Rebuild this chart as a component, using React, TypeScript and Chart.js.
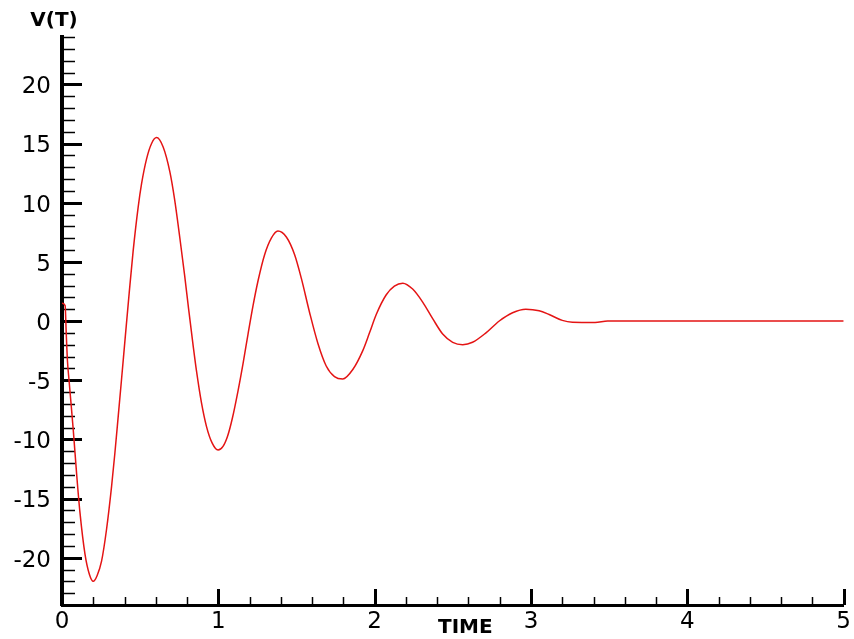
import React, { useEffect, useRef } from "react";
import { Chart, registerables } from "chart.js";

Chart.register(...registerables);

// ---- data ----
const timeValues = [
  0, 0.02, 0.027, 0.035, 0.045, 0.058, 0.072, 0.094, 0.115, 0.147, 0.175, 0.2,
  0.225, 0.253, 0.285, 0.317, 0.338, 0.36, 0.381, 0.405, 0.43, 0.455, 0.487,
  0.509, 0.541, 0.573, 0.605, 0.647, 0.69, 0.72, 0.753, 0.785, 0.81, 0.839,
  0.86, 0.892, 0.924, 0.96, 0.998, 1.03, 1.06, 1.09, 1.126, 1.158, 1.19, 1.222,
  1.254, 1.296, 1.339, 1.381, 1.435, 1.488, 1.531, 1.584, 1.637, 1.69, 1.743,
  1.796, 1.86, 1.924, 1.967, 2.01, 2.073, 2.126, 2.18, 2.243, 2.307, 2.371,
  2.435, 2.499, 2.563, 2.626, 2.712, 2.797, 2.882, 2.967, 3.052, 3.116, 3.2,
  3.265, 3.41, 3.49, 3.6, 4.0, 4.5, 5.0,
];
const voltageValues = [
  1.5, 1.3, -1.0, -3.4, -5.0, -7.0, -9.2, -13.0, -16.2, -19.7, -21.4, -22.0,
  -21.5, -20.3, -17.6, -14.0, -11.2, -8.0, -4.9, -1.3, 2.4, 5.9, 9.6, 11.6,
  13.7, 15.0, 15.5, 14.7, 12.6, 10.3, 7.1, 3.8, 1.0, -2.1, -4.2, -6.9, -8.9,
  -10.3, -10.9, -10.6, -9.7, -8.2, -5.9, -3.6, -1.1, 1.3, 3.4, 5.6, 7.0, 7.6,
  7.1, 5.6, 3.6, 0.7, -1.9, -3.8, -4.7, -4.9, -4.1, -2.5, -1.0, 0.55, 2.2,
  2.95, 3.2, 2.7, 1.6, 0.2, -1.1, -1.8, -2.0, -1.8, -1.0, 0.0, 0.7, 1.0,
  0.87, 0.55, 0.05, -0.1, -0.12, 0.0, 0, 0, 0, 0,
];
const xTickLabels = [0, 1, 2, 3, 4, 5];
const yTickLabels = [-20, -15, -10, -5, 0, 5, 10, 15, 20];
const xRange = [0, 5];
const yRange = [-24, 24];
const xMinorStep = 0.2;
const yMinorStep = 1;
const xTitle = "TIME";
const yTitle = "V(T)";

const innerTicks = {
  id: "innerTicks",
  beforeDatasetsDraw(chart: any) {
    const { ctx, chartArea, scales } = chart;
    const xs = scales.x;
    const ys = scales.y;
    ctx.save();
    ctx.strokeStyle = "#000";
    const nY = Math.round((yRange[1] - yRange[0]) / yMinorStep);
    for (let i = 0; i <= nY; i++) {
      const v = yRange[0] + i * yMinorStep;
      const major = yTickLabels.some((t) => Math.abs(t - v) < 1e-6);
      const py = Math.round(ys.getPixelForValue(v)) + 0.5;
      ctx.lineWidth = major ? 3 : 1.5;
      ctx.beginPath();
      ctx.moveTo(chartArea.left, py);
      ctx.lineTo(chartArea.left + (major ? 20 : 13), py);
      ctx.stroke();
    }
    const nX = Math.round((xRange[1] - xRange[0]) / xMinorStep);
    for (let i = 0; i <= nX; i++) {
      const v = xRange[0] + i * xMinorStep;
      const major = xTickLabels.some((t) => Math.abs(t - v) < 1e-6);
      const px = Math.round(xs.getPixelForValue(v)) + 0.5;
      ctx.lineWidth = major ? 3 : 1.5;
      ctx.beginPath();
      ctx.moveTo(px, chartArea.bottom);
      ctx.lineTo(px, chartArea.bottom - (major ? 16 : 8));
      ctx.stroke();
    }
    ctx.restore();
  },
  afterDraw(chart: any) {
    const { ctx, chartArea } = chart;
    ctx.save();
    ctx.fillStyle = "#000";
    ctx.font = "bold 20px 'DejaVu Sans'";
    ctx.textAlign = "center";
    ctx.textBaseline = "middle";
    ctx.fillText(yTitle, chartArea.left - 8, chartArea.top - 16);
    ctx.fillText(xTitle, chartArea.left + (chartArea.right - chartArea.left) * 0.516, chartArea.bottom + 23);
    ctx.restore();
  },
};

export default function App() {
  const ref = useRef<HTMLCanvasElement>(null);
  useEffect(() => {
    if (!ref.current) return;
    const points = timeValues.map((t, i) => ({ x: t, y: voltageValues[i] }));
    const chart = new Chart(ref.current, {
      type: "line",
      data: {
        datasets: [
          {
            data: points,
            borderColor: "rgb(228, 20, 20)",
            borderWidth: 1.5,
            pointRadius: 0,
            fill: false,
            cubicInterpolationMode: "monotone",
          },
        ],
      },
      options: {
        animation: false,
        responsive: false,
        layout: { padding: { top: 37, right: 9, left: 0, bottom: 0 } },
        plugins: { legend: { display: false }, tooltip: { enabled: false } },
        scales: {
          x: {
            type: "linear",
            min: xRange[0],
            max: xRange[1],
            afterBuildTicks: (s: any) => {
              s.ticks = xTickLabels.map((v) => ({ value: v }));
            },
            afterFit: (s: any) => {
              s.height = 34;
            },
            grid: { display: false, drawTicks: false },
            border: { display: true, width: 3, color: "#000" },
            ticks: {
              color: "#000",
              padding: 3,
              maxRotation: 0,
              font: { family: "'DejaVu Sans'", size: 23 },
            },
          },
          y: {
            type: "linear",
            min: yRange[0],
            max: yRange[1],
            afterBuildTicks: (s: any) => {
              s.ticks = yTickLabels.map((v) => ({ value: v }));
            },
            afterFit: (s: any) => {
              s.width = 62;
            },
            grid: { display: false, drawTicks: false },
            border: { display: true, width: 4, color: "#000" },
            ticks: {
              color: "#000",
              padding: 11,
              labelOffset: 3,
              font: { family: "'DejaVu Sans'", size: 23 },
            },
          },
        },
      },
      plugins: [innerTicks],
    });
    return () => chart.destroy();
  }, []);
  return (
    <div style={{ position: "fixed", left: 0, top: 0, width: 854, height: 639, background: "#fff" }}>
      <canvas ref={ref} width={854} height={639} />
    </div>
  );
}
